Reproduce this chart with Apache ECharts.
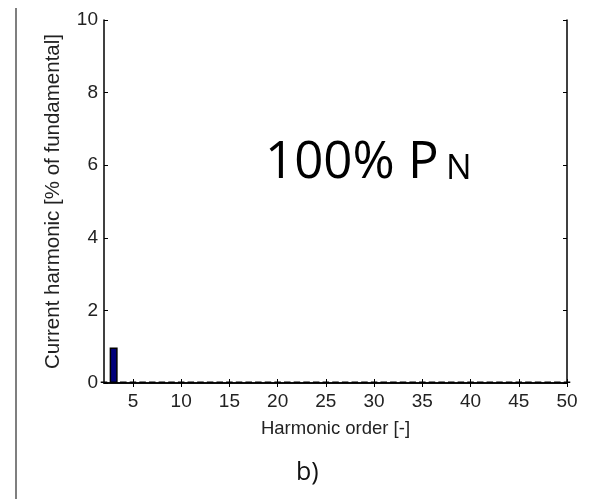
<!DOCTYPE html>
<html><head><meta charset="utf-8">
<script src="https://cdn.jsdelivr.net/npm/echarts@6/dist/echarts.min.js"></script>
<style>html,body{margin:0;padding:0;background:#fff}#c{width:596px;height:499px}</style>
</head><body><div id="c"></div>
<script>
const harmonicOrders = [2,3,4,5,6,7,8,9,10,11,12,13,14,15,16,17,18,19,20,21,22,23,24,25,26,27,28,29,30,31,32,33,34,35,36,37,38,39,40,41,42,43,44,45,46,47,48,49,50];
const harmonicValues = [0.04,0.98,0.04,0.04,0.04,0.04,0.04,0.04,0.04,0.04,0.04,0.04,0.04,0.04,0.04,0.04,0.04,0.04,0.04,0.04,0.04,0.04,0.04,0.04,0.04,0.04,0.04,0.04,0.04,0.04,0.04,0.04,0.04,0.04,0.04,0.04,0.04,0.04,0.04,0.04,0.04,0.04,0.04,0.04,0.04,0.04,0.04,0.04,0.04];
const xTickLabels = [5,10,15,20,25,30,35,40,45,50];
const yTickLabels = [0,2,4,6,8,10];

const font = 'Liberation Sans, Arial, sans-serif';
const chart = echarts.init(document.getElementById('c'));
const tickStyle = {show:true, inside:true, length:4, lineStyle:{color:'#000', width:1}};
chart.setOption({
  animation:false,
  grid:{left:104, right:29, top:20, bottom:116},
  xAxis:[{
    type:'value', min:2, max:50, position:'bottom',
    axisLine:{show:true, onZero:false, lineStyle:{color:'#000', width:1.5}},
    axisTick:Object.assign({customValues:xTickLabels}, tickStyle),
    axisLabel:{customValues:xTickLabels, color:'#222', fontSize:19, fontFamily:font, margin:9},
    splitLine:{show:false},
    name:'Harmonic order [-]', nameLocation:'middle', nameGap:36,
    nameTextStyle:{color:'#222', fontSize:18.5, fontFamily:font}
  },{
    type:'value', min:2, max:50, position:'top',
    axisLine:{show:true, lineStyle:{color:'#000', width:1.5}},
    axisTick:Object.assign({customValues:xTickLabels}, tickStyle),
    axisLabel:{show:false}, splitLine:{show:false}
  }],
  yAxis:[{
    type:'value', min:0, max:10, interval:2, position:'left',
    axisLine:{show:true, lineStyle:{color:'#000', width:1.5}},
    axisTick:tickStyle,
    axisLabel:{color:'#222', fontSize:19, fontFamily:font, margin:6},
    splitLine:{show:false},
    name:'Current harmonic [% of fundamental]', nameLocation:'middle', nameGap:40,
    nameTextStyle:{color:'#222', fontSize:20.5, fontFamily:font}
  },{
    type:'value', min:0, max:10, interval:2, position:'right',
    axisLine:{show:true, lineStyle:{color:'#000', width:1.5}},
    axisTick:tickStyle, axisLabel:{show:false}, splitLine:{show:false}
  }],
  series:[{
    type:'bar', xAxisIndex:0, yAxisIndex:0,
    data:harmonicOrders.map((h,i)=>[h, harmonicValues[i]]),
    barWidth:8,
    itemStyle:{color:'#00007a', borderColor:'#000', borderWidth:1.5}
  }],
  graphic:[
    {type:'line', shape:{x1:16, y1:8, x2:16, y2:499}, style:{stroke:'#555', lineWidth:1.5}},
    {type:'text', left:265, top:138, style:{text:'100% P', fontSize:51, fontFamily:'Open Sans, sans-serif', fill:'#000'}},
    {type:'text', left:446, top:152, style:{text:'N', fontSize:34, fontFamily:'Open Sans, sans-serif', fill:'#000'}},
    {type:'text', left:296, top:460, style:{text:'b)', fontSize:25, fontFamily:'Open Sans, sans-serif', fill:'#111'}}
  ]
});
</script></body></html>
